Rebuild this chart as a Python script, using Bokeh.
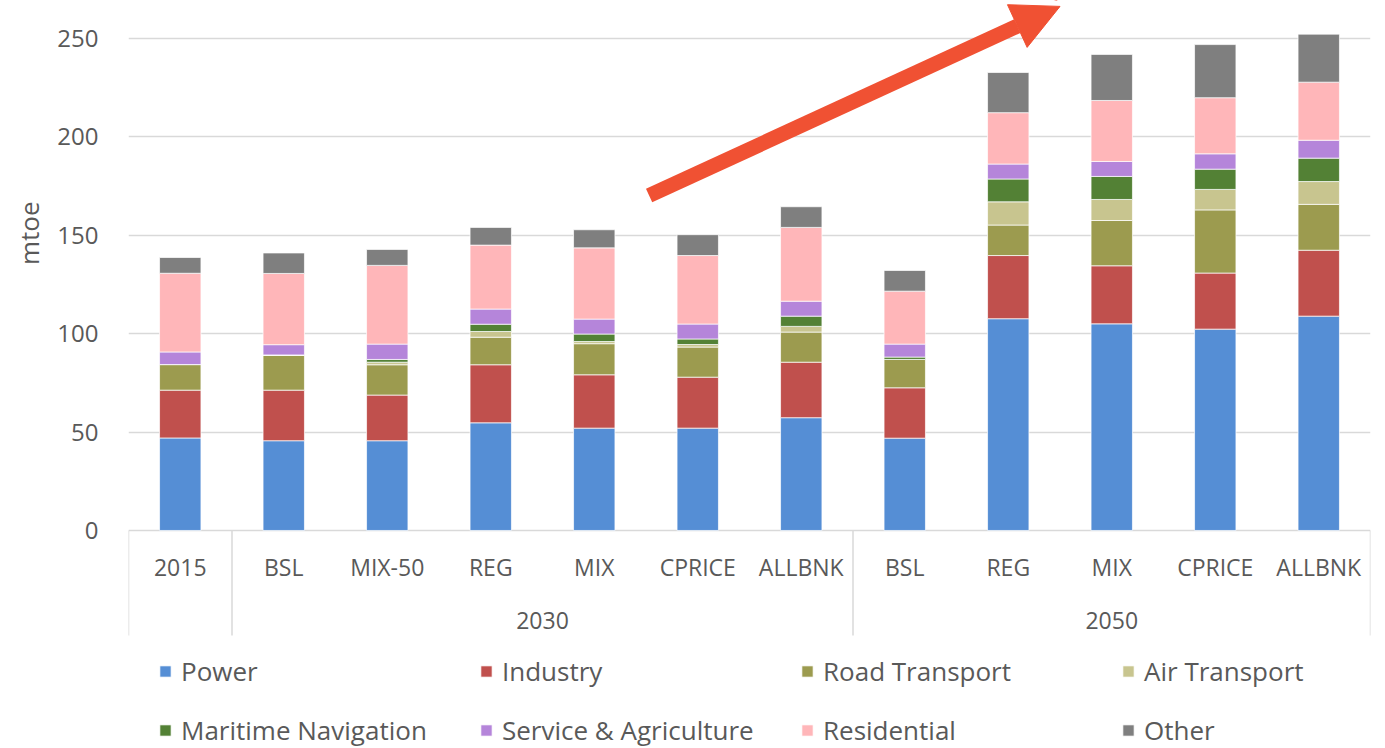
from bokeh.plotting import figure
from bokeh.models import (ColumnDataSource, Range1d, Legend, LegendItem,
                          FixedTicker, Arrow, NormalHead, Title)
from bokeh.core.properties import value
from bokeh.embed import file_html
from bokeh.resources import INLINE

# ---- data ----
scenarios = ["2015", "BSL", "MIX-50", "REG", "MIX", "CPRICE", "ALLBNK",
             "BSL", "REG", "MIX", "CPRICE", "ALLBNK"]
group_names = ["2030", "2050"]
group_spans = [(1, 7), (7, 12)]          # category index ranges of each group
separators = [0, 1, 7, 12]
sectors = ["Power", "Industry", "Road Transport", "Air Transport",
           "Maritime Navigation", "Service & Agriculture", "Residential", "Other"]
power = [47.0, 45.6, 45.6, 54.7, 52.0, 52.0, 57.3, 46.9, 107.6, 105.0, 102.3, 108.9]
industry = [24.3, 25.7, 23.2, 29.5, 27.1, 25.9, 28.2, 25.6, 32.1, 29.5, 28.5, 33.5]
road = [13.0, 17.6, 15.4, 14.0, 15.8, 15.3, 15.3, 14.4, 15.5, 23.0, 32.1, 23.3]
air = [0.0, 0.3, 1.3, 2.9, 1.1, 1.3, 2.9, 0.0, 11.8, 10.7, 10.4, 11.6]
maritime = [0.0, 0.0, 1.4, 3.7, 3.8, 2.8, 5.2, 1.2, 11.6, 11.7, 10.3, 11.9]
service = [6.4, 5.2, 7.8, 7.7, 7.6, 7.6, 7.6, 6.6, 7.6, 7.6, 7.8, 9.1]
residential = [40.0, 36.2, 40.0, 32.5, 36.2, 34.8, 37.5, 26.9, 26.1, 31.0, 28.5, 29.5]
other = [8.0, 10.4, 8.1, 9.0, 9.2, 10.6, 10.5, 10.5, 20.4, 23.4, 27.0, 24.4]
y_ticks = [0, 50, 100, 150, 200, 250]

colors = ["#558ED5", "#C0504D", "#9C9B4F", "#C8C58F",
          "#538135", "#B585DA", "#FFB6B9", "#7F7F7F"]

n = len(scenarios)
xpos = [i + 0.5 for i in range(n)]
keys = ["power", "industry", "road", "air", "maritime", "service", "residential", "other"]
source = ColumnDataSource(dict(x=xpos, power=power, industry=industry, road=road, air=air,
                               maritime=maritime, service=service,
                               residential=residential, other=other))

FONT = "Open Sans"
TXT = "#595959"
GRID = "#D9D9D9"

# frame covers the whole height; the category band lives below y=0 inside the frame
Y_TOP, Y_BOTTOM = 269.3, -110.8
LABEL_Y, GROUP_Y, SEP_Y = -18.8, -45.7, -53.4

p = figure(x_range=Range1d(0, n), y_range=Range1d(Y_BOTTOM, Y_TOP), width=1377, height=748,
           output_backend="svg", toolbar_location=None, x_axis_location=None,
           min_border_left=128, min_border_right=7, min_border_top=0, min_border_bottom=0)
p.outline_line_color = None
p.background_fill_color = "white"

renderers = p.vbar_stack(keys, x="x", width=0.4, source=source, color=colors,
                         line_color="white", line_width=1, line_alpha=0.7)

# y axis with tick labels
ya = p.yaxis[0]
ya.ticker = FixedTicker(ticks=y_ticks)
ya.axis_line_color = None
ya.major_tick_line_color = None
ya.major_tick_out = 0
ya.minor_tick_line_color = None
ya.major_label_text_font = FONT
ya.major_label_text_font_size = "24px"
ya.major_label_text_color = TXT
ya.major_label_standoff = 30
p.ygrid.ticker = FixedTicker(ticks=y_ticks)
p.ygrid.grid_line_color = GRID
p.ygrid.grid_line_width = 1.5
p.xgrid.grid_line_color = None

# value-axis title, placed beside the upper part of the value scale
p.add_layout(Title(text="mtoe", align="right", offset=201, standoff=16,
                   text_font=FONT, text_font_size="26px", text_font_style="normal",
                   text_color=TXT), "left")

# category band: separators, scenario labels, group labels
p.segment(x0=separators, y0=[0] * len(separators), x1=separators,
          y1=[SEP_Y] * len(separators), line_color=GRID, line_width=1.5)
p.text(x=xpos, y=[LABEL_Y] * n, text=scenarios, text_align="center",
       text_baseline="middle", text_font=value(FONT), text_font_size="23px",
       text_color=TXT)
gpos = [(a + b) / 2 for a, b in group_spans]
p.text(x=gpos, y=[GROUP_Y] * len(gpos), text=group_names, text_align="center",
       text_baseline="middle", text_font=value(FONT), text_font_size="23px",
       text_color=TXT)

# red trend arrow
RED = "#F05133"
p.add_layout(Arrow(end=NormalHead(size=47, fill_color=RED, line_color=RED, line_width=1),
                   x_start=5.03, y_start=170.2, x_end=9.0, y_end=266.3,
                   line_color=RED, line_width=15))

items = [LegendItem(label=s, renderers=[r]) for s, r in zip(sectors, renderers)]
legend = Legend(items=items, orientation="horizontal", ncols=4,
                glyph_width=14, glyph_height=14, label_standoff=9, label_width=275,
                label_height=30, spacing=23, padding=0, margin=0,
                border_line_color=None, background_fill_alpha=0,
                label_text_font=FONT, label_text_font_size="26px", label_text_color=TXT,
                location=(30, 0))
p.add_layout(legend, "center")

open("out.html", "w").write(file_html(p, INLINE))
